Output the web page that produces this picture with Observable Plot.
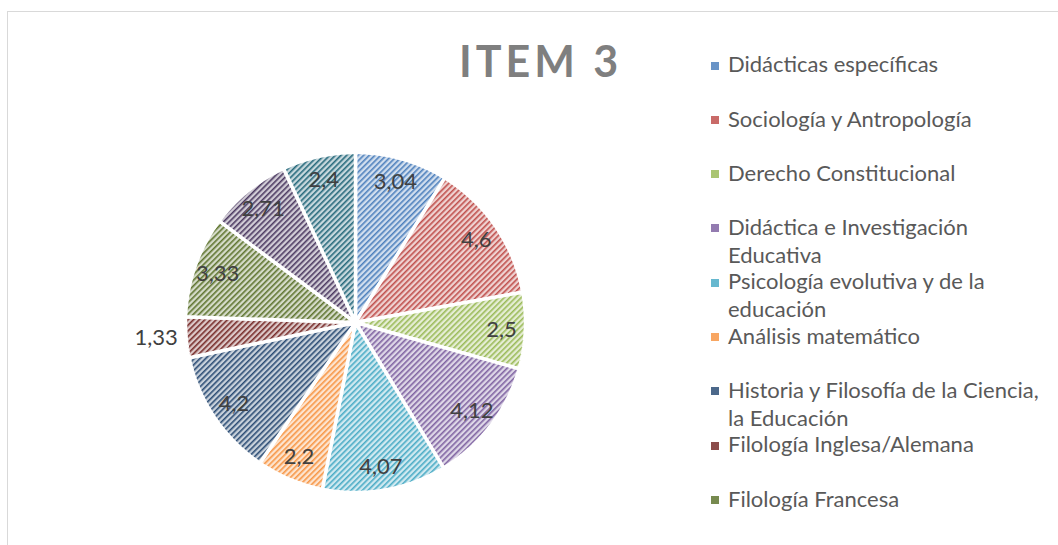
<!DOCTYPE html>
<html>
<head>
<meta charset="utf-8">
<script src="https://cdn.jsdelivr.net/npm/d3@7"></script>
<script src="https://cdn.jsdelivr.net/npm/@observablehq/plot@0.6"></script>
<style>
  body { margin: 0; background: #fff; }
  #wrap { position: relative; width: 1058px; height: 545px; overflow: hidden; font-family: Lato, "Open Sans", sans-serif; }
  #frame { position: absolute; left: 7px; top: 11px; width: 1200px; height: 700px; border-top: 1px solid #d9d9d9; border-left: 1px solid #d9d9d9; }
  #title { position: absolute; left: 459px; top: 38.7px; font-size: 43px; line-height: 43px; font-weight: 700; letter-spacing: 4px; color: #7f7f7f; white-space: nowrap; }
  #chart { position: absolute; left: 124.5px; top: 91.5px; }
  .entry { position: absolute; left: 711px; width: 340px; }
  .mark { position: absolute; left: 0; top: 11.4px; width: 8px; height: 8px; }
  .txt { position: absolute; left: 17px; top: 0; width: 318px; font-size: 22px; line-height: 28px; color: #595959; }
</style>
</head>
<body>
<div id="wrap">
  <div id="frame"></div>
  <div id="title"></div>
  <div id="chart"></div>
  <div id="legend"></div>
</div>
<script>
// ---- data ----
const title = "ITEM 3";
const categories = [
  "Didácticas específicas",
  "Sociología y Antropología",
  "Derecho Constitucional",
  "Didáctica e Investigación Educativa",
  "Psicología evolutiva y de la educación",
  "Análisis matemático",
  "Historia y Filosofía de la Ciencia, la Educación",
  "Filología Inglesa/Alemana",
  "Filología Francesa"
];
const values = [3.04, 4.6, 2.5, 4.12, 4.07, 2.2, 4.2, 1.33, 3.33, 2.71, 2.4];
const colors = ["#4F81BD", "#C0504D", "#9BBB59", "#8064A2", "#4BACC6", "#F79646",
                "#2C4D75", "#772C2A", "#5F7530", "#4D3B62", "#276A7C"];

// ---- layout constants ----
const R = 170;          // pie radius in px
const half = 230;       // half of svg size in px
const lim = half / R;

document.getElementById("title").textContent = title;

const total = d3.sum(values);
let acc = 0;
const slices = values.map((v, i) => {
  const a0 = acc / total * 2 * Math.PI; acc += v;
  const a1 = acc / total * 2 * Math.PI;
  const n = Math.max(2, Math.ceil((a1 - a0) / (Math.PI / 360)));
  const pts = [{x: 0, y: 0}];
  for (let k = 0; k <= n; k++) {
    const a = a0 + (a1 - a0) * k / n;
    pts.push({x: Math.sin(a), y: Math.cos(a)});
  }
  return {i, v, a0, a1, mid: (a0 + a1) / 2, pts};
});

const fmt = v => String(v).replace(".", ",");
const inside = [], outL = [], outR = [];
slices.forEach(s => {
  const out = s.v / total < 0.05;
  const r = out ? 1.05 : 0.86;
  const d = {x: r * Math.sin(s.mid), y: r * Math.cos(s.mid), text: fmt(s.v)};
  if (!out) inside.push(d); else if (d.x < 0) outL.push(d); else outR.push(d);
});

const textOpts = {x: "x", y: "y", text: "text", fontSize: 22, fontFamily: "Lato, 'Open Sans', sans-serif", fill: "#404040"};

const svg = Plot.plot({
  width: 2 * half, height: 2 * half,
  margin: 0,
  x: {domain: [-lim, lim], axis: null},
  y: {domain: [-lim, lim], axis: null},
  style: {background: "transparent", overflow: "visible"},
  marks: [
    ...slices.map(s => Plot.line(s.pts, {
      x: "x", y: "y", curve: "linear-closed",
      fill: `url(#pat${s.i})`, stroke: "#ffffff", strokeWidth: 3.5, strokeLinejoin: "miter"
    })),
    Plot.text(inside, {...textOpts, textAnchor: "middle"}),
    Plot.text(outL, {...textOpts, textAnchor: "end"}),
    Plot.text(outR, {...textOpts, textAnchor: "start"})
  ]
});

const defs = d3.select(svg).insert("defs", ":first-child");
colors.forEach((c, i) => {
  const p = defs.append("pattern")
    .attr("id", "pat" + i)
    .attr("patternUnits", "userSpaceOnUse")
    .attr("width", 4).attr("height", 4)
    .attr("patternTransform", "rotate(45)");
  p.append("rect").attr("width", 4).attr("height", 4).attr("fill", d3.interpolateRgb(c, "#ffffff")(0.74));
  p.append("rect").attr("width", 1.6).attr("height", 4).attr("fill", c);
});
document.getElementById("chart").appendChild(svg);

// ---- legend ----
const legend = document.getElementById("legend");
categories.forEach((name, i) => {
  const e = document.createElement("div");
  e.className = "entry";
  e.style.top = (50.2 + i * 54.3) + "px";
  const m = document.createElement("div");
  m.className = "mark";
  m.style.background = d3.interpolateRgb(colors[i], "#ffffff")(0.15);
  const t = document.createElement("div");
  t.className = "txt";
  t.textContent = name;
  e.appendChild(m); e.appendChild(t);
  legend.appendChild(e);
});
</script>
</body>
</html>
